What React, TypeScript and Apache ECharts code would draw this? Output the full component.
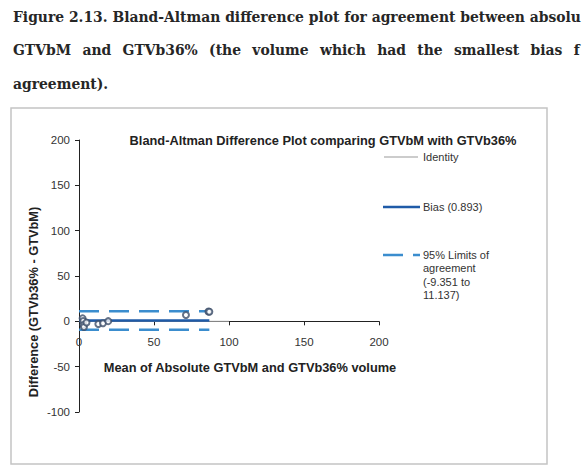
import React, { useEffect, useRef } from 'react';
import * as echarts from 'echarts';

// ---- Text content ----
const captionLine1 = 'Figure 2.13. Bland-Altman difference plot for agreement between absolute';
const captionLine1Visible = 'Figure 2.13. Bland-Altman difference plot for agreement between absolu';
const captionLine2Words = ['GTVbM', 'and', 'GTVb36%', '(the', 'volume', 'which', 'had', 'the', 'smallest', 'bias', 'for'];
const captionLine3 = 'agreement).';
const chartTitle = 'Bland-Altman Difference Plot comparing GTVbM with GTVb36%';
const xAxisTitle = 'Mean of Absolute GTVbM and GTVb36% volume';
const yAxisTitle = 'Difference (GTVb36% - GTVbM)';
const legendIdentity = 'Identity';
const legendBias = 'Bias (0.893)';
const legendLimits = ['95% Limits of', 'agreement', '(-9.351 to', '11.137)'];

// ---- Data ----
const meanValues = [2.4, 2.8, 3.0, 3.3, 5.0, 12.9, 16.0, 19.5, 71.3, 86.3, 86.9];
const diffValues = [3.3, 0.3, -4.0, -6.2, -1.4, -3.0, -2.2, 0.2, 7.0, 10.9, 10.6];
const biasValue = 0.893;
const lowerLimit = -9.351;
const upperLimit = 11.137;
const identityX = [0, 100];
const identityY = [0, 0];

// ---- Axes ----
const xMin = 0, xMax = 200, xStep = 50;
const yMin = -100, yMax = 200, yStep = 50;
const xAxisCrossesAt = -10;

export default function App() {
  const ref = useRef<HTMLDivElement>(null);

  useEffect(() => {
    if (!ref.current) return;
    const chart = echarts.init(ref.current, undefined, { renderer: 'svg' });

    const W = 583;
    const capLeft = 13;
    const cv = document.createElement('canvas').getContext('2d')!;
    cv.font = 'bold 20px "DejaVu Serif"';
    const size = Math.round(20 * (W - capLeft - 2) / cv.measureText(captionLine1Visible).width * 10) / 10;
    const captionFont = `bold ${size}px "DejaVu Serif"`;
    const captionColor = '#262626';
    cv.font = captionFont;
    const mw = (s: string) => cv.measureText(s).width;
    const fit = (s: string, x: number) => {
      let out = '';
      for (const ch of s) {
        if (x + mw(out + ch) > W + 3) break;
        out += ch;
      }
      return out;
    };

    const paraWidth = mw(captionLine1);
    const graphics: any[] = [];
    graphics.push({ type: 'text', x: capLeft, y: 17, style: { text: fit(captionLine1, capLeft), font: captionFont, fill: captionColor, textVerticalAlign: 'middle' } });
    const sumW = captionLine2Words.reduce((a, s) => a + mw(s), 0);
    const gap = (paraWidth - sumW) / (captionLine2Words.length - 1);
    let cx = capLeft;
    for (const word of captionLine2Words) {
      if (cx < W) {
        const t = fit(word, cx);
        if (t) graphics.push({ type: 'text', x: cx, y: 50, style: { text: t, font: captionFont, fill: captionColor, textVerticalAlign: 'middle' } });
      }
      cx += mw(word) + gap;
    }
    graphics.push({ type: 'text', x: capLeft, y: 84, style: { text: captionLine3, font: captionFont, fill: captionColor, textVerticalAlign: 'middle' } });

    // chart frame
    graphics.push({ type: 'rect', shape: { x: 11, y: 108, width: 536, height: 356 }, style: { fill: 'none', stroke: '#c4c4c4', lineWidth: 1.5 }, z: -1 });

    const sans = '"Liberation Sans", Arial, sans-serif';
    const titleFont = `bold 12.8px ${sans}`;
    graphics.push({ type: 'text', x: 323, y: 140, style: { text: chartTitle, font: titleFont, fill: '#222', textAlign: 'center', textVerticalAlign: 'middle' } });
    graphics.push({ type: 'text', x: 250, y: 367, style: { text: xAxisTitle, font: titleFont, fill: '#222', textAlign: 'center', textVerticalAlign: 'middle' } });
    graphics.push({ type: 'text', x: 33, y: 302, rotation: Math.PI / 2, style: { text: yAxisTitle, font: titleFont, fill: '#222', textAlign: 'center', textVerticalAlign: 'middle' } });

    // legend
    const legFont = `11px ${sans}`;
    graphics.push({ type: 'line', shape: { x1: 384, y1: 157, x2: 418, y2: 157 }, style: { stroke: '#999', lineWidth: 1 } });
    graphics.push({ type: 'text', x: 423, y: 157, style: { text: legendIdentity, font: legFont, fill: '#333', textVerticalAlign: 'middle' } });
    graphics.push({ type: 'line', shape: { x1: 383, y1: 207, x2: 420, y2: 207 }, style: { stroke: '#1f5ba8', lineWidth: 2.5 } });
    graphics.push({ type: 'text', x: 423, y: 207, style: { text: legendBias, font: legFont, fill: '#333', textVerticalAlign: 'middle' } });
    graphics.push({ type: 'line', shape: { x1: 383, y1: 255, x2: 420, y2: 255 }, style: { stroke: '#3b8dce', lineWidth: 2.5, lineDash: [20, 10] } });
    legendLimits.forEach((t, i) => {
      graphics.push({ type: 'text', x: 423, y: 255 + i * 13.3, style: { text: t, font: legFont, fill: '#333', textVerticalAlign: 'middle' } });
    });

    const gridLeft = 79, gridTop = 140, gridW = 300, gridH = 272;
    const crossH = gridH * (yMax - xAxisCrossesAt) / (yMax - yMin);
    const lineEnd = Math.max(...meanValues);

    const axisLineStyle = { color: '#222', width: 1 };
    const labelStyle = { color: '#333', fontSize: 11.5, fontFamily: sans };

    chart.setOption({
      animation: false,
      backgroundColor: '#fff',
      graphic: graphics,
      grid: [
        { left: gridLeft, top: gridTop, width: gridW, height: gridH },
        { left: gridLeft, top: gridTop, width: gridW, height: crossH },
      ],
      xAxis: [
        { type: 'value', gridIndex: 0, min: xMin, max: xMax, interval: xStep, show: false },
        {
          type: 'value', gridIndex: 1, min: xMin, max: xMax, interval: xStep, position: 'bottom',
          axisLine: { show: true, lineStyle: axisLineStyle },
          axisTick: { show: true, inside: false, length: 4, lineStyle: axisLineStyle },
          axisLabel: { ...labelStyle, margin: 6 },
          splitLine: { show: false },
        },
      ],
      yAxis: [
        {
          type: 'value', gridIndex: 0, min: yMin, max: yMax, interval: yStep,
          axisLine: { show: true, onZero: false, lineStyle: axisLineStyle },
          axisTick: { show: true, inside: false, length: 4, lineStyle: axisLineStyle },
          axisLabel: { ...labelStyle, margin: 9 },
          splitLine: { show: false },
        },
        { type: 'value', gridIndex: 1, min: xAxisCrossesAt, max: yMax, show: false },
      ],
      series: [
        {
          name: 'Identity', type: 'line', xAxisIndex: 0, yAxisIndex: 0, showSymbol: false, silent: true,
          data: identityX.map((x, i) => [x, identityY[i]]),
          lineStyle: { color: '#9a9a9a', width: 1 }, z: 2,
        },
        {
          name: 'Bias (0.893)', type: 'line', xAxisIndex: 0, yAxisIndex: 0, showSymbol: false,
          data: [[xMin, biasValue], [lineEnd, biasValue]],
          lineStyle: { color: '#1f5ba8', width: 2.5 }, z: 3,
        },
        {
          name: '95% Limits of agreement', type: 'line', xAxisIndex: 0, yAxisIndex: 0, showSymbol: false,
          data: [[xMin, upperLimit], [lineEnd, upperLimit]],
          lineStyle: { color: '#3b8dce', width: 2.5, type: [20, 10] }, z: 3,
        },
        {
          name: '95% Limits of agreement', type: 'line', xAxisIndex: 0, yAxisIndex: 0, showSymbol: false,
          data: [[xMin, lowerLimit], [lineEnd, lowerLimit]],
          lineStyle: { color: '#3b8dce', width: 2.5, type: [20, 10] }, z: 3,
        },
        {
          name: 'Differences', type: 'scatter', xAxisIndex: 0, yAxisIndex: 0,
          symbol: 'emptyCircle', symbolSize: 6,
          data: meanValues.map((m, i) => [m, diffValues[i]]),
          itemStyle: { color: '#3d4f6a', borderWidth: 1.2 }, z: 5,
        },
      ],
    });

    return () => chart.dispose();
  }, []);

  return <div ref={ref} style={{ position: 'fixed', left: 0, top: 0, width: 583, height: 471 }} />;
}
